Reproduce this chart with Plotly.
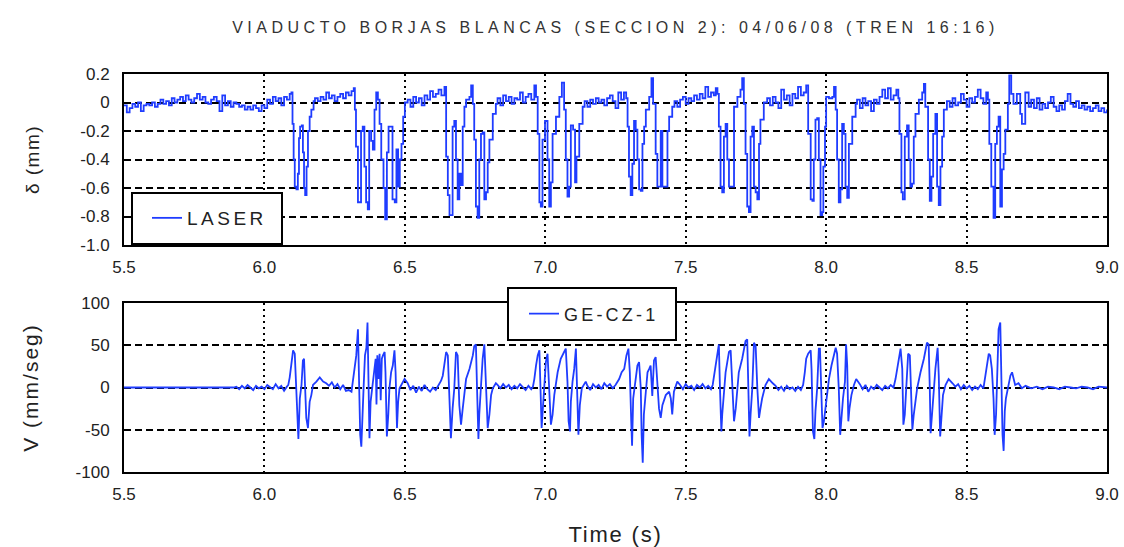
import plotly.graph_objects as go

# ---------------- data ----------------
x_tick_vals = [5.5, 6.0, 6.5, 7.0, 7.5, 8.0, 8.5, 9.0]
x_tick_text = ["5.5", "6.0", "6.5", "7.0", "7.5", "8.0", "8.5", "9.0"]
d_tick_vals = [0.2, 0.0, -0.2, -0.4, -0.6, -0.8, -1.0]
d_tick_text = ["0.2", "0", "-0.2", "-0.4", "-0.6", "-0.8", "-1.0"]
v_tick_vals = [100, 50, 0, -50, -100]
v_tick_text = ["100", "50", "0", "-50", "-100"]

# LASER displacement (time s, delta mm)
laser_samples = [
    (5.50,-0.02),(5.51,-0.07),(5.52,-0.04),(5.53,-0.01),(5.54,-0.03),(5.55,0.00),(5.56,-0.06),(5.57,-0.02),
    (5.58,-0.01),(5.59,-0.02),(5.60,0.00),(5.61,-0.03),(5.62,-0.01),(5.63,0.02),(5.64,-0.01),(5.65,0.01),
    (5.66,-0.02),(5.67,0.03),(5.68,0.00),(5.69,0.02),(5.70,0.04),(5.71,0.01),(5.72,0.05),(5.73,0.02),
    (5.74,0.00),(5.75,0.03),(5.76,0.06),(5.77,0.02),(5.78,0.04),(5.79,0.00),(5.80,-0.01),(5.81,0.02),
    (5.82,0.04),(5.83,0.01),(5.84,-0.06),(5.85,0.05),(5.86,-0.02),(5.87,0.01),(5.88,-0.03),(5.89,0.00),
    (5.90,-0.01),(5.91,-0.03),(5.92,-0.02),(5.93,-0.05),(5.94,-0.03),(5.95,-0.05),(5.96,-0.02),(5.97,-0.04),
    (5.98,-0.06),(5.99,-0.02),(6.00,-0.04),(6.01,0.02),(6.02,-0.01),(6.03,0.04),(6.04,0.01),(6.05,0.03),
    (6.06,-0.02),(6.07,0.04),(6.08,0.02),(6.09,0.06),(6.096,0.07),
    (6.100,-0.15),(6.104,-0.40),(6.108,-0.59),(6.114,-0.61),(6.119,-0.50),(6.123,-0.25),(6.127,-0.17),
    (6.133,-0.16),(6.137,-0.35),(6.141,-0.60),(6.145,-0.65),(6.150,-0.45),(6.155,-0.20),(6.161,-0.10),
    (6.167,-0.05),(6.175,0.01),
    (6.18,0.03),(6.19,0.01),(6.20,0.04),(6.21,0.02),(6.22,0.07),(6.23,0.03),(6.24,0.05),(6.25,0.01),
    (6.26,0.04),(6.27,0.06),(6.28,0.03),(6.29,0.07),(6.30,0.05),(6.31,0.08),(6.318,0.10),
    (6.322,-0.05),(6.326,-0.31),(6.333,-0.70),(6.339,-0.70),(6.344,-0.20),(6.350,-0.17),(6.356,-0.45),
    (6.362,-0.70),(6.368,-0.75),(6.373,-0.20),(6.380,-0.27),(6.386,-0.33),(6.392,-0.05),(6.398,0.07),
    (6.404,0.02),(6.410,-0.15),(6.416,-0.40),(6.424,-0.60),(6.430,-0.82),(6.436,-0.35),(6.442,-0.17),
    (6.450,-0.17),(6.456,-0.68),(6.464,-0.70),(6.470,-0.33),(6.476,-0.59),(6.482,-0.40),(6.488,-0.29),
    (6.494,-0.10),(6.500,0.00),
    (6.51,0.02),(6.52,-0.03),(6.53,0.04),(6.54,0.00),(6.55,0.03),(6.56,-0.02),(6.57,0.05),(6.58,0.02),
    (6.59,0.08),(6.60,0.04),(6.61,0.06),(6.62,0.09),(6.63,0.05),(6.641,0.11),
    (6.647,-0.38),(6.653,-0.65),(6.659,-0.79),(6.664,-0.79),(6.670,-0.17),(6.676,-0.13),(6.682,-0.40),
    (6.688,-0.68),(6.694,-0.50),(6.700,-0.58),(6.706,-0.17),(6.712,-0.03),(6.718,0.02),(6.730,0.04),
    (6.736,0.12),(6.742,-0.01),(6.747,-0.26),(6.753,-0.73),(6.759,-0.81),(6.765,-0.40),(6.771,-0.22),
    (6.777,-0.21),(6.783,-0.68),(6.789,-0.63),(6.795,-0.42),(6.801,-0.26),(6.813,-0.08),(6.824,-0.01),
    (6.83,0.03),(6.84,-0.02),(6.85,0.05),(6.86,0.01),(6.87,0.04),(6.88,-0.01),(6.89,0.03),(6.90,0.02),
    (6.91,0.07),(6.92,0.00),(6.93,0.04),(6.94,0.06),(6.95,0.02),(6.961,0.12),(6.967,0.04),
    (6.973,-0.22),(6.979,-0.70),(6.984,-0.73),(6.990,-0.26),(6.999,-0.13),(7.008,-0.40),(7.014,-0.73),
    (7.020,-0.56),(7.026,-0.22),(7.038,-0.10),(7.050,0.04),(7.059,0.14),(7.067,-0.05),(7.073,-0.40),
    (7.079,-0.66),(7.085,-0.59),(7.091,-0.16),(7.099,-0.19),(7.106,-0.56),(7.111,-0.38),(7.121,-0.15),
    (7.133,-0.03),
    (7.14,0.01),(7.15,-0.03),(7.16,0.02),(7.17,-0.01),(7.18,0.03),(7.19,0.00),(7.20,0.02),(7.21,-0.02),
    (7.22,0.03),(7.23,0.05),(7.24,0.01),(7.25,-0.04),(7.26,0.07),(7.27,0.02),(7.28,0.07),(7.288,0.03),
    (7.293,-0.17),(7.298,-0.52),(7.304,-0.65),(7.310,-0.43),(7.316,-0.13),(7.322,-0.19),(7.328,-0.40),
    (7.334,-0.61),(7.340,-0.62),(7.346,-0.29),(7.352,-0.17),(7.358,-0.05),(7.370,0.04),(7.378,0.17),
    (7.384,-0.01),(7.393,-0.36),(7.399,-0.59),(7.405,-0.59),(7.411,-0.20),(7.417,-0.59),(7.429,-0.59),
    (7.435,-0.20),(7.441,-0.10),(7.452,-0.03),
    (7.46,0.01),(7.47,-0.03),(7.48,0.02),(7.49,0.04),(7.50,-0.01),(7.51,0.03),(7.52,0.01),(7.53,0.05),
    (7.54,0.02),(7.55,0.06),(7.56,0.03),(7.57,0.11),(7.58,0.04),(7.59,0.07),(7.60,0.05),(7.607,0.10),
    (7.613,0.06),
    (7.618,-0.17),(7.624,-0.59),(7.630,-0.63),(7.636,-0.24),(7.642,-0.15),(7.648,-0.40),(7.654,-0.59),
    (7.663,-0.59),(7.672,-0.03),(7.684,0.04),(7.695,0.09),(7.701,0.17),(7.707,-0.01),(7.713,-0.36),
    (7.719,-0.73),(7.725,-0.77),(7.731,-0.24),(7.737,-0.17),(7.743,-0.59),(7.749,-0.63),(7.755,-0.68),
    (7.761,-0.29),(7.766,-0.12),(7.778,0.00),
    (7.79,0.03),(7.80,-0.02),(7.81,0.04),(7.82,0.00),(7.83,-0.04),(7.84,0.09),(7.85,0.02),(7.86,0.05),
    (7.87,-0.02),(7.88,0.06),(7.89,0.03),(7.90,0.11),(7.91,0.05),(7.92,0.07),(7.929,0.12),
    (7.936,-0.22),(7.945,-0.68),(7.951,-0.69),(7.956,-0.40),(7.962,-0.12),(7.968,-0.11),(7.974,-0.40),
    (7.980,-0.79),(7.986,-0.77),(7.990,-0.45),(7.996,-0.17),(8.000,0.04),(8.010,0.03),(8.022,0.04),
    (8.028,0.11),(8.034,-0.05),(8.039,-0.40),(8.045,-0.70),(8.051,-0.61),(8.057,-0.15),(8.063,-0.22),
    (8.069,-0.59),(8.075,-0.67),(8.081,-0.29),(8.093,-0.10),(8.105,-0.01),
    (8.11,0.02),(8.12,-0.04),(8.13,0.03),(8.14,-0.02),(8.15,0.01),(8.16,-0.06),(8.17,0.02),(8.18,-0.01),
    (8.19,0.04),(8.20,0.09),(8.21,0.03),(8.22,0.10),(8.23,0.02),(8.24,0.05),(8.25,0.09),(8.257,0.03),
    (8.261,-0.22),(8.268,-0.63),(8.273,-0.68),(8.280,-0.24),(8.288,-0.16),(8.294,-0.40),(8.300,-0.59),
    (8.306,-0.57),(8.312,-0.24),(8.318,-0.08),(8.330,0.02),(8.342,0.07),(8.348,0.13),(8.353,-0.03),
    (8.363,-0.40),(8.369,-0.69),(8.375,-0.52),(8.381,-0.22),(8.389,-0.08),(8.395,-0.59),(8.401,-0.72),
    (8.407,-0.45),(8.413,-0.24),(8.419,-0.05),
    (8.43,0.01),(8.44,-0.03),(8.45,0.03),(8.46,-0.02),(8.47,0.00),(8.48,0.06),(8.49,0.02),(8.50,-0.03),
    (8.51,0.03),(8.52,0.00),(8.53,0.04),(8.54,0.09),(8.55,0.03),(8.56,-0.01),(8.57,0.07),(8.576,0.02),
    (8.581,-0.29),(8.588,-0.59),(8.596,-0.81),(8.602,-0.29),(8.608,-0.17),(8.614,-0.10),(8.620,-0.73),
    (8.626,-0.47),(8.632,-0.36),(8.638,-0.19),(8.647,-0.01),(8.652,0.19),(8.659,0.06),(8.667,-0.01),
    (8.679,0.06),(8.691,-0.08),(8.697,-0.15),(8.709,0.07),(8.721,-0.03),
    (8.73,0.02),(8.74,-0.04),(8.75,0.03),(8.76,-0.05),(8.77,-0.01),(8.78,-0.04),(8.79,0.00),(8.80,0.04),
    (8.81,-0.03),(8.82,-0.06),(8.83,-0.02),(8.84,-0.05),(8.85,0.01),(8.86,0.06),(8.87,-0.01),(8.88,-0.03),
    (8.89,0.01),(8.90,-0.04),(8.91,-0.02),(8.92,-0.05),(8.93,-0.03),(8.94,-0.06),(8.95,-0.04),(8.96,-0.02),
    (8.97,-0.06),(8.98,-0.04),(8.99,-0.07),(9.00,-0.05),
]

# GE-CZ-1 velocity (time s, V mm/seg)
velocity_samples = [
    (5.50,0),(5.60,0),(5.70,0),(5.80,0),(5.89,0),
    (5.90,1),(5.91,-2),(5.92,2),(5.93,-1),(5.94,3),(5.95,0),(5.96,-3),(5.97,2),(5.98,-1),(5.99,1),
    (6.00,-2),(6.01,3),(6.02,0),(6.03,-2),(6.04,4),(6.05,-1),(6.06,2),(6.07,-4),(6.08,1),(6.085,3),
    (6.090,12),(6.096,26),(6.102,44),(6.108,40),(6.111,14),(6.116,-40),(6.121,-61),(6.126,-13),(6.132,3),
    (6.137,32),(6.141,34),(6.145,-1),(6.149,-36),(6.155,-48),(6.161,-17),(6.167,-9),(6.173,3),(6.185,7),
    (6.197,12),(6.209,7),
    (6.22,5),(6.23,2),(6.24,6),(6.25,0),(6.26,4),(6.27,-2),(6.28,3),(6.29,-4),(6.30,-3),(6.31,-5),
    (6.315,10),(6.321,26),(6.327,38),(6.333,69),(6.337,3),(6.341,-56),(6.345,-70),(6.348,-32),(6.353,-1),
    (6.358,38),(6.363,47),(6.367,77),(6.371,3),(6.374,-60),(6.378,-17),(6.384,-1),(6.389,18),(6.396,34),
    (6.399,-20),(6.402,38),(6.406,10),(6.410,40),(6.414,-15),(6.418,34),(6.422,38),(6.428,42),(6.431,18),
    (6.436,-58),(6.441,-32),(6.445,-1),(6.451,18),(6.457,26),(6.463,44),(6.467,18),(6.472,-48),(6.476,-17),
    (6.481,-1),(6.487,3),(6.499,10),
    (6.51,5),(6.52,-3),(6.53,2),(6.54,-6),(6.55,1),(6.56,-4),(6.57,3),(6.58,-2),(6.59,-5),(6.60,0),
    (6.61,-3),(6.62,2),(6.629,8),
    (6.635,14),(6.647,42),(6.653,38),(6.659,-9),(6.664,-60),(6.670,-25),(6.676,-1),(6.682,42),(6.688,38),
    (6.694,-21),(6.700,-44),(6.706,-25),(6.712,-9),(6.718,10),(6.730,22),(6.742,38),(6.747,49),(6.753,51),
    (6.757,-1),(6.762,-61),(6.765,-32),(6.771,-1),(6.777,34),(6.783,51),(6.789,3),(6.795,-48),(6.801,-32),
    (6.807,-9),(6.813,-1),(6.824,5),
    (6.83,3),(6.84,-1),(6.85,4),(6.86,0),(6.87,3),(6.88,-2),(6.89,2),(6.90,-1),(6.91,4),(6.92,0),
    (6.93,-3),(6.94,2),(6.95,-2),(6.956,1),
    (6.961,10),(6.967,26),(6.973,38),(6.979,44),(6.982,-1),(6.987,-48),(6.990,-32),(6.996,-1),(7.002,30),
    (7.008,40),(7.014,-9),(7.020,-44),(7.026,-32),(7.032,-9),(7.044,18),(7.055,34),(7.067,42),(7.073,46),
    (7.079,7),(7.083,-40),(7.088,-52),(7.091,-17),(7.097,7),(7.103,22),(7.109,46),(7.112,-1),(7.118,-56),
    (7.123,-21),(7.130,-1),(7.144,7),
    (7.15,2),(7.16,-3),(7.17,4),(7.18,0),(7.19,3),(7.20,-2),(7.21,5),(7.22,1),(7.23,4),(7.24,-1),(7.25,3),
    (7.263,10),(7.272,18),(7.281,22),(7.289,38),(7.296,46),(7.301,18),(7.306,-40),(7.309,-69),(7.313,-13),
    (7.322,10),(7.328,26),(7.334,30),(7.340,-1),(7.343,-56),(7.347,-89),(7.351,-32),(7.358,-1),(7.364,18),
    (7.370,22),(7.375,26),(7.381,-10),(7.387,32),(7.393,36),(7.399,-1),(7.405,-25),(7.411,-36),(7.417,-21),
    (7.429,-9),(7.441,-5),(7.447,-13),(7.452,-32),(7.458,-5),(7.470,7),
    (7.48,3),(7.49,-2),(7.50,4),(7.51,0),(7.52,2),(7.53,-3),(7.54,3),(7.55,0),(7.56,4),(7.57,-1),
    (7.58,2),(7.59,-2),(7.596,3),
    (7.601,14),(7.607,30),(7.612,38),(7.618,51),(7.622,-1),(7.627,-52),(7.630,-32),(7.636,-9),(7.642,18),
    (7.648,30),(7.654,42),(7.660,44),(7.666,-1),(7.672,-40),(7.678,-25),(7.684,-1),(7.689,18),(7.701,34),
    (7.707,46),(7.713,55),(7.719,57),(7.723,-1),(7.727,-58),(7.731,-32),(7.737,-1),(7.743,53),(7.749,49),
    (7.755,-1),(7.761,-36),(7.766,-25),(7.772,-13),(7.784,3),(7.796,10),
    (7.81,5),(7.82,2),(7.83,-3),(7.84,1),(7.85,-4),(7.86,2),(7.87,-2),(7.88,0),(7.89,-4),(7.90,1),
    (7.91,-3),(7.918,3),
    (7.924,18),(7.929,34),(7.936,40),(7.945,44),(7.948,22),(7.953,-52),(7.958,-61),(7.962,-28),(7.968,-1),
    (7.974,46),(7.978,46),(7.983,-1),(7.987,-48),(7.992,-40),(7.998,-21),(8.010,10),(8.019,26),(8.028,38),
    (8.034,47),(8.039,40),(8.045,-1),(8.050,-56),(8.055,-32),(8.060,-13),(8.067,7),(8.071,51),(8.075,26),
    (8.079,-40),(8.083,-25),(8.090,-9),(8.099,3),(8.107,10),
    (8.12,4),(8.13,-2),(8.14,3),(8.15,-5),(8.16,1),(8.17,-2),(8.18,3),(8.19,0),(8.20,-3),(8.21,2),
    (8.22,-1),(8.23,3),(8.24,0),
    (8.247,10),(8.253,22),(8.259,38),(8.265,46),(8.271,22),(8.275,-44),(8.280,-32),(8.285,-1),(8.292,40),
    (8.298,38),(8.302,-1),(8.307,-50),(8.312,-32),(8.318,-13),(8.324,-1),(8.336,18),(8.348,34),(8.359,53),
    (8.365,51),(8.369,-1),(8.372,-54),(8.377,-32),(8.383,-1),(8.389,22),(8.397,47),(8.401,14),(8.406,-58),
    (8.410,-32),(8.416,-9),(8.425,3),(8.436,10),
    (8.45,5),(8.46,1),(8.47,4),(8.48,-2),(8.49,3),(8.50,-1),(8.51,2),(8.52,-3),(8.53,1),(8.54,-2),
    (8.55,3),(8.56,-1),
    (8.567,14),(8.573,26),(8.579,40),(8.584,38),(8.590,22),(8.596,-13),(8.600,-56),(8.605,-32),(8.609,3),
    (8.614,69),(8.620,77),(8.624,18),(8.628,-56),(8.632,-75),(8.636,-28),(8.640,-13),(8.647,-1),(8.656,14),
    (8.662,18),(8.667,10),(8.673,3),(8.685,5),(8.697,-1),
    (8.71,2),(8.73,-1),(8.75,1),(8.77,-2),(8.79,1),(8.81,0),(8.83,-2),(8.85,1),(8.87,0),(8.89,-1),
    (8.91,1),(8.93,0),(8.95,-2),(8.97,1),(9.00,0),
]

laser_t = [p[0] for p in laser_samples]
laser_d = [p[1] for p in laser_samples]
vel_t = [p[0] for p in velocity_samples]
vel_v = [p[1] for p in velocity_samples]

# ---------------- figure ----------------
BLUE = "#1f3cff"
FONT = "Liberation Sans, Arial, sans-serif"
TXT = "#222222"
W, H = 1124, 547
L, R, T, B = 124, 17, 74, 75
PW, PH = W - L - R, H - T - B


def px_x(px):
    return (px - L) / PW


def px_y(py):
    return 1 - (py - T) / PH


def spaced(text, px):
    return '<span style="letter-spacing:%spx">%s</span>' % (px, text)


fig = go.Figure()
fig.add_trace(go.Scatter(x=laser_t, y=laser_d, mode="lines", name=spaced("LASER", 3.5),
                         line=dict(color=BLUE, width=1.8, shape="hv"),
                         xaxis="x", yaxis="y", legend="legend", showlegend=True))
fig.add_trace(go.Scatter(x=vel_t, y=vel_v, mode="lines", name=spaced("GE-CZ-1", 3.2),
                         line=dict(color=BLUE, width=1.8),
                         xaxis="x2", yaxis="y2", legend="legend2", showlegend=True))

axis_common = dict(showline=True, linecolor="black", linewidth=2, mirror=True,
                   showgrid=True, gridcolor="black", gridwidth=1.5, zeroline=False,
                   ticks="", tickfont=dict(family=FONT, size=17, color=TXT))

fig.update_layout(
    width=W, height=H,
    margin=dict(l=L, r=R, t=T, b=B, autoexpand=False),
    paper_bgcolor="white", plot_bgcolor="white",
    showlegend=True,
    font=dict(family=FONT, color=TXT),
    title=dict(text=spaced("VIADUCTO BORJAS BLANCAS (SECCION 2): 04/06/08 (TREN 16:16)", 4.5),
               x=0.5, xref="paper", xanchor="center",
               y=1 - 27 / H, yref="container", yanchor="middle",
               font=dict(family=FONT, size=16, color="#333333")),
    xaxis=dict(axis_common, domain=[0, 1], anchor="y", range=[5.5, 9.0],
               tickvals=x_tick_vals, ticktext=x_tick_text, griddash="2px,4px",
               ticklabelstandoff=6),
    yaxis=dict(axis_common, domain=[px_y(245), 1], anchor="x", range=[-1.0, 0.2],
               tickvals=d_tick_vals, ticktext=d_tick_text, griddash="7px,4px",
               ticklabelstandoff=9,
               title=dict(text=spaced("δ (mm)", 1.5), font=dict(family=FONT, size=19, color=TXT),
                          standoff=36)),
    xaxis2=dict(axis_common, domain=[0, 1], anchor="y2", range=[5.5, 9.0],
                tickvals=x_tick_vals, ticktext=x_tick_text, griddash="2px,4px",
                ticklabelstandoff=6,
                title=dict(text=spaced("Time (s)", 1.8), font=dict(family=FONT, size=22, color=TXT),
                           standoff=24)),
    yaxis2=dict(axis_common, domain=[0, px_y(303)], anchor="x2", range=[-100, 100],
                tickvals=v_tick_vals, ticktext=v_tick_text, griddash="7px,4px",
                ticklabelstandoff=9,
                title=dict(text=spaced("V (mm/seg)", 2), font=dict(family=FONT, size=21, color=TXT),
                           standoff=31)),
    legend=dict(x=px_x(147), y=px_y(218), xanchor="left", yanchor="middle",
                bgcolor="rgba(0,0,0,0)", borderwidth=0,
                font=dict(family=FONT, size=19, color=TXT)),
    legend2=dict(x=px_x(524), y=px_y(314), xanchor="left", yanchor="middle",
                 bgcolor="rgba(0,0,0,0)", borderwidth=0,
                 font=dict(family=FONT, size=18, color=TXT)),
    shapes=[
        dict(type="rect", xref="paper", yref="paper", layer="above",
             x0=px_x(132), x1=px_x(282), y0=px_y(244), y1=px_y(193),
             line=dict(color="black", width=2), fillcolor="white"),
        dict(type="rect", xref="paper", yref="paper", layer="above",
             x0=px_x(508), x1=px_x(676), y0=px_y(340), y1=px_y(288),
             line=dict(color="black", width=2), fillcolor="white"),
    ],
)

fig.write_html("out.html")
